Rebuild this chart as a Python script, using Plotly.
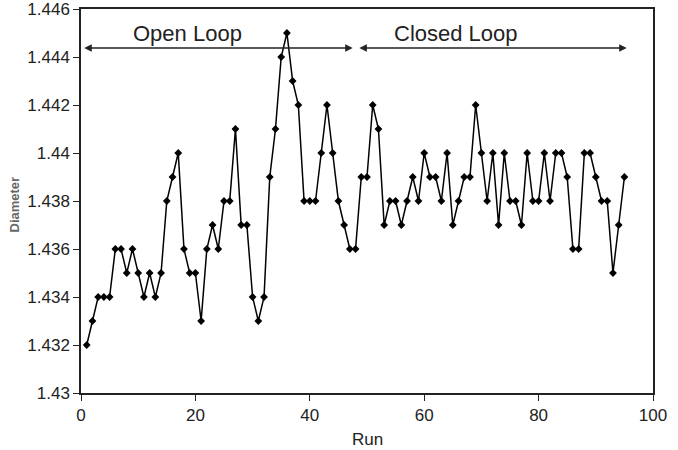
import plotly.graph_objects as go

runs = list(range(1, 96))
diameter = [
    1.432, 1.433, 1.434, 1.434, 1.434, 1.436, 1.436, 1.435, 1.436, 1.435,
    1.434, 1.435, 1.434, 1.435, 1.438, 1.439, 1.440, 1.436, 1.435, 1.435,
    1.433, 1.436, 1.437, 1.436, 1.438, 1.438, 1.441, 1.437, 1.437, 1.434,
    1.433, 1.434, 1.439, 1.441, 1.444, 1.445, 1.443, 1.442, 1.438, 1.438,
    1.438, 1.440, 1.442, 1.440, 1.438, 1.437, 1.436, 1.436, 1.439, 1.439,
    1.442, 1.441, 1.437, 1.438, 1.438, 1.437, 1.438, 1.439, 1.438, 1.440,
    1.439, 1.439, 1.438, 1.440, 1.437, 1.438, 1.439, 1.439, 1.442, 1.440,
    1.438, 1.440, 1.437, 1.440, 1.438, 1.438, 1.437, 1.440, 1.438, 1.438,
    1.440, 1.438, 1.440, 1.440, 1.439, 1.436, 1.436, 1.440, 1.440, 1.439,
    1.438, 1.438, 1.435, 1.437, 1.439,
]
y_ticks = [1.43, 1.432, 1.434, 1.436, 1.438, 1.44, 1.442, 1.444, 1.446]
y_ticktext = ["1.43", "1.432", "1.434", "1.436", "1.438", "1.44", "1.442", "1.444", "1.446"]
x_ticks = [0, 20, 40, 60, 80, 100]

phase_labels = ["Open Loop", "Closed Loop"]
phase_label_x = [18.7, 65.6]
phase_label_y = 1.44497
phase_spans = [(0.3, 47.5), (48.4, 95.4)]
arrow_y = 1.44437

fig = go.Figure()
fig.add_trace(go.Scatter(
    x=runs, y=diameter, mode="lines+markers",
    line=dict(color="black", width=1.5),
    marker=dict(symbol="diamond", size=6, color="black"),
    showlegend=False,
))

annotations = []
for lbl, lx in zip(phase_labels, phase_label_x):
    annotations.append(dict(x=lx, y=phase_label_y, xref="x", yref="y", text=lbl,
                            showarrow=False, font=dict(size=22, color="#222"),
                            xanchor="center", yanchor="middle"))
for (x0, x1) in phase_spans:
    annotations.append(dict(x=x1, y=arrow_y, ax=x0, ay=arrow_y, xref="x", yref="y",
                            axref="x", ayref="y", text="", showarrow=True,
                            arrowhead=2, arrowside="end+start", arrowsize=1,
                            arrowwidth=1.5, arrowcolor="#222", standoff=0, startstandoff=0))

annotations.append(dict(x=-0.116, y=0.49, xref="paper", yref="paper", text="<b>Diameter</b>",
                        textangle=-90, showarrow=False, font=dict(size=13, color="#666"),
                        xanchor="center", yanchor="middle"))
annotations.append(dict(x=0.5, y=-0.12, xref="paper", yref="paper", text="Run",
                        showarrow=False, font=dict(size=17, color="#222"),
                        xanchor="center", yanchor="middle"))

fig.update_layout(
    width=678, height=450,
    margin=dict(l=81, r=25, t=9, b=57),
    plot_bgcolor="white", paper_bgcolor="white",
    font=dict(family="Liberation Sans, Arial, sans-serif", color="#222", size=17),
    annotations=annotations,
    xaxis=dict(range=[0, 100], tickvals=x_ticks, ticks="outside", ticklen=6,
               tickcolor="#222", showline=True, linecolor="#222", linewidth=1.5,
               mirror=True, showgrid=False, zeroline=False, automargin=False),
    yaxis=dict(range=[1.43, 1.4460001], tickvals=y_ticks, ticktext=y_ticktext,
               ticks="outside", ticklen=6, tickcolor="#222", showline=True,
               linecolor="#222", linewidth=1.5, mirror=True, showgrid=False,
               zeroline=False, automargin=False, ticklabeloverflow="allow"),
)

fig.write_html("out.html")
